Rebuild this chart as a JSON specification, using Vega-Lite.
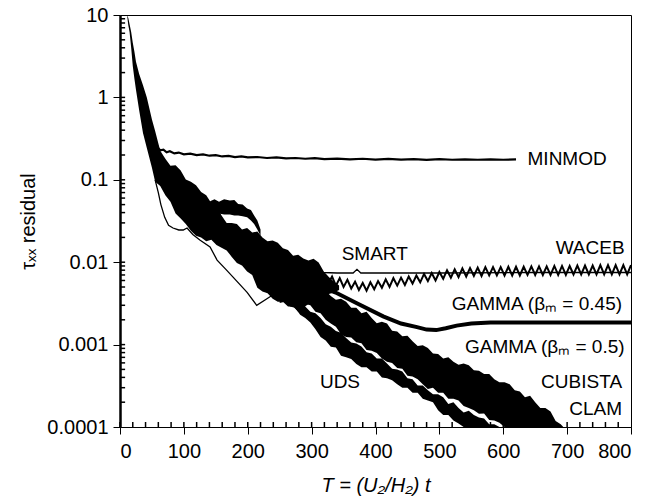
{
"$schema":"https://vega.github.io/schema/vega-lite/v6.json",
"width":511,"height":412,
"autosize":{"type":"none"},
"padding":{"left":120,"top":15,"right":17,"bottom":75},
"background":"white",
"config":{"view":{"stroke":"black","strokeWidth":1},"font":"Liberation Sans",
 "axis":{"domainColor":"black","tickColor":"black","labelColor":"black","titleColor":"black","grid":false,"labelFont":"Liberation Sans","titleFont":"Liberation Sans","titleFontWeight":"normal"}},
"datasets":{
"bands":[
{"band":"bundle","x":11,"hi":10,"lo":10},
{"band":"bundle","x":13,"hi":9.2,"lo":7.5},
{"band":"bundle","x":15,"hi":7.7,"lo":6.2},
{"band":"bundle","x":17.5,"hi":6.2,"lo":4.0},
{"band":"bundle","x":20,"hi":4.6,"lo":2.4},
{"band":"bundle","x":22.5,"hi":3.6,"lo":1.7},
{"band":"bundle","x":25,"hi":2.7,"lo":1.24},
{"band":"bundle","x":30,"hi":1.92,"lo":0.70},
{"band":"bundle","x":36,"hi":1.40,"lo":0.37},
{"band":"bundle","x":42,"hi":1.0,"lo":0.244},
{"band":"bundle","x":50,"hi":0.54,"lo":0.14},
{"band":"bundle","x":55,"hi":0.39,"lo":0.095},
{"band":"bundle","x":63,"hi":0.225,"lo":0.084},
{"band":"bundle","x":71,"hi":0.18,"lo":0.065},
{"band":"bundle","x":79,"hi":0.148,"lo":0.054},
{"band":"bundle","x":87,"hi":0.15,"lo":0.039},
{"band":"bundle","x":95,"hi":0.13,"lo":0.034},
{"band":"bundle","x":103,"hi":0.101,"lo":0.029},
{"band":"bundle","x":111,"hi":0.095,"lo":0.024},
{"band":"bundle","x":119,"hi":0.086,"lo":0.021},
{"band":"bundle","x":127,"hi":0.071,"lo":0.020},
{"band":"bundle","x":135,"hi":0.065,"lo":0.018},
{"band":"bundle","x":143,"hi":0.052,"lo":0.0187},
{"band":"bundle","x":151,"hi":0.048,"lo":0.0162},
{"band":"bundle","x":159,"hi":0.037,"lo":0.015},
{"band":"bundle","x":167,"hi":0.030,"lo":0.0139},
{"band":"bundle","x":175,"hi":0.030,"lo":0.0116},
{"band":"bundle","x":183,"hi":0.029,"lo":0.0098},
{"band":"bundle","x":191,"hi":0.025,"lo":0.0091},
{"band":"bundle","x":199,"hi":0.026,"lo":0.0077},
{"band":"bundle","x":207,"hi":0.023,"lo":0.0070},
{"band":"bundle","x":215,"hi":0.0235,"lo":0.0049},
{"band":"bundle","x":223,"hi":0.020,"lo":0.0044},
{"band":"bundle","x":231,"hi":0.018,"lo":0.0042},
{"band":"bundle","x":239,"hi":0.0184,"lo":0.0036},
{"band":"bundle","x":247,"hi":0.0172,"lo":0.0033},
{"band":"bundle","x":255,"hi":0.0148,"lo":0.0033},
{"band":"bundle","x":263,"hi":0.0141,"lo":0.0029},
{"band":"bundle","x":271,"hi":0.012,"lo":0.0029},
{"band":"bundle","x":279,"hi":0.0123,"lo":0.0025},
{"band":"bundle","x":287,"hi":0.0111,"lo":0.0028},
{"band":"bundle","x":295,"hi":0.0105,"lo":0.0031},
{"band":"bundle","x":303,"hi":0.011,"lo":0.0032},
{"band":"bundle","x":311,"hi":0.0099,"lo":0.0034},
{"band":"bundle","x":319,"hi":0.0077,"lo":0.0038},
{"band":"bundle","x":327,"hi":0.0066,"lo":0.0041},
{"band":"bundle","x":335,"hi":0.0058,"lo":0.0043},
{"band":"bundle","x":343,"hi":0.0052,"lo":0.0046},
{"band":"hump","x":141,"hi":0.055,"lo":0.04},
{"band":"hump","x":148,"hi":0.058,"lo":0.039},
{"band":"hump","x":155,"hi":0.054,"lo":0.039},
{"band":"hump","x":163,"hi":0.058,"lo":0.038},
{"band":"hump","x":172,"hi":0.056,"lo":0.038},
{"band":"hump","x":179,"hi":0.057,"lo":0.037},
{"band":"hump","x":185,"hi":0.051,"lo":0.037},
{"band":"hump","x":192,"hi":0.05,"lo":0.036},
{"band":"hump","x":199,"hi":0.045,"lo":0.035},
{"band":"hump","x":205,"hi":0.043,"lo":0.032},
{"band":"hump","x":210,"hi":0.037,"lo":0.029},
{"band":"hump","x":215,"hi":0.032,"lo":0.025},
{"band":"hump","x":220,"hi":0.025,"lo":0.021},
{"band":"g5","x":290,"hi":0.0066,"lo":0.0031},
{"band":"g5","x":298,"hi":0.0055,"lo":0.003},
{"band":"g5","x":306,"hi":0.0052,"lo":0.0025},
{"band":"g5","x":314,"hi":0.0044,"lo":0.0024},
{"band":"g5","x":322,"hi":0.0045,"lo":0.002},
{"band":"g5","x":330,"hi":0.0039,"lo":0.0018},
{"band":"g5","x":338,"hi":0.0035,"lo":0.00165},
{"band":"g5","x":346,"hi":0.0036,"lo":0.00134},
{"band":"g5","x":354,"hi":0.0033,"lo":0.00124},
{"band":"g5","x":362,"hi":0.0028,"lo":0.00122},
{"band":"g5","x":370,"hi":0.0028,"lo":0.00107},
{"band":"g5","x":378,"hi":0.0024,"lo":0.00104},
{"band":"g5","x":386,"hi":0.0025,"lo":0.00086},
{"band":"g5","x":394,"hi":0.0021,"lo":0.00084},
{"band":"g5","x":402,"hi":0.00182,"lo":0.00079},
{"band":"g5","x":410,"hi":0.0019,"lo":0.00068},
{"band":"g5","x":418,"hi":0.0018,"lo":0.00062},
{"band":"g5","x":426,"hi":0.00147,"lo":0.0006},
{"band":"g5","x":434,"hi":0.00144,"lo":0.00052},
{"band":"g5","x":442,"hi":0.00126,"lo":0.00051},
{"band":"g5","x":450,"hi":0.00128,"lo":0.00042},
{"band":"g5","x":458,"hi":0.0011,"lo":0.00041},
{"band":"g5","x":466,"hi":0.00096,"lo":0.00038},
{"band":"g5","x":474,"hi":0.00098,"lo":0.00033},
{"band":"g5","x":482,"hi":0.00091,"lo":0.00029},
{"band":"g5","x":490,"hi":0.00078,"lo":0.0003},
{"band":"g5","x":498,"hi":0.00077,"lo":0.00026},
{"band":"g5","x":506,"hi":0.00068,"lo":0.00026},
{"band":"g5","x":514,"hi":0.0007,"lo":0.00022},
{"band":"g5","x":522,"hi":0.00062,"lo":0.00022},
{"band":"g5","x":530,"hi":0.00057,"lo":0.00021},
{"band":"g5","x":538,"hi":0.00059,"lo":0.00018},
{"band":"g5","x":546,"hi":0.00056,"lo":0.00017},
{"band":"g5","x":554,"hi":0.00049,"lo":0.00016},
{"band":"g5","x":562,"hi":0.00048,"lo":0.000145},
{"band":"g5","x":570,"hi":0.00044,"lo":0.000146},
{"band":"g5","x":578,"hi":0.00044,"lo":0.000122},
{"band":"g5","x":586,"hi":0.00038,"lo":0.00012},
{"band":"g5","x":594,"hi":0.00035,"lo":0.000113},
{"band":"g5","x":602,"hi":0.00035,"lo":0.0001},
{"band":"g5","x":610,"hi":0.00033,"lo":0.0001},
{"band":"g5","x":618,"hi":0.00028,"lo":0.0001},
{"band":"g5","x":626,"hi":0.00027,"lo":0.0001},
{"band":"g5","x":634,"hi":0.00023,"lo":0.0001},
{"band":"g5","x":642,"hi":0.00024,"lo":0.0001},
{"band":"g5","x":650,"hi":0.0002,"lo":0.0001},
{"band":"g5","x":658,"hi":0.00017,"lo":0.0001},
{"band":"g5","x":666,"hi":0.00017,"lo":0.0001},
{"band":"g5","x":674,"hi":0.000154,"lo":0.0001},
{"band":"g5","x":682,"hi":0.000118,"lo":0.0001},
{"band":"g5","x":690,"hi":0.000108,"lo":0.0001},
{"band":"g5","x":694,"hi":0.0001,"lo":0.0001},
{"band":"uds","x":250,"hi":0.0048,"lo":0.0032},
{"band":"uds","x":258,"hi":0.0041,"lo":0.0033},
{"band":"uds","x":266,"hi":0.004,"lo":0.0029},
{"band":"uds","x":274,"hi":0.0035,"lo":0.0028},
{"band":"uds","x":282,"hi":0.0034,"lo":0.0023},
{"band":"uds","x":290,"hi":0.0029,"lo":0.0021},
{"band":"uds","x":298,"hi":0.0025,"lo":0.00185},
{"band":"uds","x":306,"hi":0.0024,"lo":0.00154},
{"band":"uds","x":314,"hi":0.0021,"lo":0.00124},
{"band":"uds","x":322,"hi":0.00176,"lo":0.00112},
{"band":"uds","x":330,"hi":0.00165,"lo":0.00094},
{"band":"uds","x":338,"hi":0.00146,"lo":0.00092},
{"band":"uds","x":346,"hi":0.00139,"lo":0.00073},
{"band":"uds","x":354,"hi":0.0012,"lo":0.0007},
{"band":"uds","x":362,"hi":0.00106,"lo":0.00067},
{"band":"uds","x":370,"hi":0.00103,"lo":0.00058},
{"band":"uds","x":378,"hi":0.00095,"lo":0.00053},
{"band":"uds","x":386,"hi":0.00081,"lo":0.00053},
{"band":"uds","x":394,"hi":0.00078,"lo":0.00047},
{"band":"uds","x":402,"hi":0.00068,"lo":0.00047},
{"band":"uds","x":410,"hi":0.00068,"lo":0.0004},
{"band":"uds","x":418,"hi":0.00059,"lo":0.00039},
{"band":"uds","x":426,"hi":0.00051,"lo":0.00037},
{"band":"uds","x":434,"hi":0.0005,"lo":0.00033},
{"band":"uds","x":442,"hi":0.00047,"lo":0.0003},
{"band":"uds","x":450,"hi":0.00039,"lo":0.0003},
{"band":"uds","x":458,"hi":0.00038,"lo":0.00026},
{"band":"uds","x":466,"hi":0.00032,"lo":0.00026},
{"band":"uds","x":474,"hi":0.00032,"lo":0.00022},
{"band":"uds","x":482,"hi":0.00028,"lo":0.00021},
{"band":"uds","x":490,"hi":0.00025,"lo":0.0002},
{"band":"uds","x":498,"hi":0.00025,"lo":0.00016},
{"band":"uds","x":506,"hi":0.00023,"lo":0.00014},
{"band":"uds","x":514,"hi":0.00019,"lo":0.00014},
{"band":"uds","x":522,"hi":0.0002,"lo":0.00012},
{"band":"uds","x":530,"hi":0.00017,"lo":0.00011},
{"band":"uds","x":538,"hi":0.00015,"lo":0.0001},
{"band":"uds","x":546,"hi":0.000158,"lo":0.0001},
{"band":"uds","x":554,"hi":0.00014,"lo":0.0001},
{"band":"uds","x":562,"hi":0.00013,"lo":0.0001},
{"band":"uds","x":570,"hi":0.000127,"lo":0.0001},
{"band":"uds","x":578,"hi":0.000108,"lo":0.0001},
{"band":"uds","x":586,"hi":0.000108,"lo":0.0001},
{"band":"uds","x":594,"hi":0.0001,"lo":0.0001}
],
"thin":[
{"s":"thin","x":55,"y":0.1},{"s":"thin","x":60,"y":0.07},{"s":"thin","x":64,"y":0.05},{"s":"thin","x":70,"y":0.035},
{"s":"thin","x":76,"y":0.028},{"s":"thin","x":83,"y":0.026},{"s":"thin","x":92,"y":0.0246},{"s":"thin","x":99,"y":0.0246},
{"s":"thin","x":105,"y":0.026},{"s":"thin","x":114,"y":0.0217},{"s":"thin","x":125,"y":0.0186},{"s":"thin","x":141,"y":0.0153},
{"s":"thin","x":152,"y":0.0106},{"s":"thin","x":165,"y":0.0083},{"s":"thin","x":177,"y":0.0066},{"s":"thin","x":199,"y":0.0043},
{"s":"thin","x":214,"y":0.003},{"s":"thin","x":230,"y":0.0036},{"s":"thin","x":239,"y":0.004},{"s":"thin","x":250,"y":0.0043},
{"s":"smart","x":290,"y":0.0105},{"s":"smart","x":305,"y":0.009},{"s":"smart","x":318,"y":0.0075},{"s":"smart","x":340,"y":0.0074},
{"s":"smart","x":365,"y":0.0074},{"s":"smart","x":371,"y":0.0082},{"s":"smart","x":377,"y":0.0074},{"s":"smart","x":400,"y":0.0074},
{"s":"smart","x":500,"y":0.0074},{"s":"smart","x":650,"y":0.0075},{"s":"smart","x":800,"y":0.0075}
],
"minmod":[
{"x":58,"y":0.25},{"x":63,"y":0.228},{"x":68,"y":0.232},{"x":73,"y":0.216},{"x":78,"y":0.222},{"x":85,"y":0.209},{"x":92,"y":0.214},
{"x":100,"y":0.204},{"x":110,"y":0.208},{"x":120,"y":0.199},{"x":130,"y":0.203},{"x":140,"y":0.196},{"x":150,"y":0.199},{"x":160,"y":0.192},
{"x":170,"y":0.195},{"x":180,"y":0.189},{"x":190,"y":0.192},{"x":200,"y":0.187},{"x":215,"y":0.189},{"x":230,"y":0.184},{"x":245,"y":0.187},
{"x":260,"y":0.182},{"x":275,"y":0.184},{"x":290,"y":0.18},{"x":305,"y":0.183},{"x":320,"y":0.178},{"x":340,"y":0.181},{"x":360,"y":0.177},
{"x":380,"y":0.18},{"x":400,"y":0.176},{"x":420,"y":0.179},{"x":440,"y":0.176},{"x":460,"y":0.178},{"x":480,"y":0.175},{"x":500,"y":0.178},
{"x":520,"y":0.175},{"x":540,"y":0.177},{"x":560,"y":0.175},{"x":580,"y":0.177},{"x":600,"y":0.175},{"x":620,"y":0.177}
],
"waceb":[
{"x":320,"y":0.0069},{"x":326,"y":0.0055},{"x":332,"y":0.0067},{"x":338,"y":0.0052},{"x":344,"y":0.0064},{"x":350,"y":0.0050},
{"x":356,"y":0.0061},{"x":362,"y":0.0048},{"x":368,"y":0.0058},{"x":374,"y":0.0046},{"x":380,"y":0.0056},{"x":386,"y":0.0045},
{"x":392,"y":0.0057},{"x":398,"y":0.0047},{"x":404,"y":0.0059},{"x":410,"y":0.0049},{"x":416,"y":0.0062},{"x":422,"y":0.0050},
{"x":428,"y":0.0064},{"x":434,"y":0.0052},{"x":440,"y":0.0065},{"x":446,"y":0.0053},{"x":452,"y":0.0067},{"x":458,"y":0.0055},
{"x":464,"y":0.0069},{"x":470,"y":0.0057},{"x":476,"y":0.0072},{"x":482,"y":0.0059},{"x":488,"y":0.0074},{"x":494,"y":0.0060},
{"x":500,"y":0.0076},{"x":506,"y":0.0063},{"x":512,"y":0.0080},{"x":518,"y":0.0065},{"x":524,"y":0.0082},{"x":530,"y":0.0066},
{"x":536,"y":0.0084},{"x":542,"y":0.0067},{"x":548,"y":0.0085},{"x":554,"y":0.0068},{"x":560,"y":0.0086},{"x":566,"y":0.0068},
{"x":572,"y":0.0087},{"x":578,"y":0.0069},{"x":584,"y":0.0087},{"x":590,"y":0.0069},{"x":596,"y":0.0087},{"x":602,"y":0.0069},
{"x":608,"y":0.0088},{"x":614,"y":0.0069},{"x":620,"y":0.0088},{"x":626,"y":0.0069},{"x":632,"y":0.0088},{"x":638,"y":0.0070},
{"x":644,"y":0.0089},{"x":650,"y":0.0070},{"x":656,"y":0.0089},{"x":662,"y":0.0070},{"x":668,"y":0.0089},{"x":674,"y":0.0070},
{"x":680,"y":0.0090},{"x":686,"y":0.0070},{"x":692,"y":0.0090},{"x":698,"y":0.0070},{"x":704,"y":0.0090},{"x":710,"y":0.0071},
{"x":716,"y":0.0091},{"x":722,"y":0.0071},{"x":728,"y":0.0091},{"x":734,"y":0.0071},{"x":740,"y":0.0091},{"x":746,"y":0.0071},
{"x":752,"y":0.0092},{"x":758,"y":0.0071},{"x":764,"y":0.0092},{"x":770,"y":0.0071},{"x":776,"y":0.0092},{"x":782,"y":0.0071},
{"x":788,"y":0.0092},{"x":794,"y":0.0071},{"x":800,"y":0.0092}
],
"gamma45":[
{"x":300,"y":0.0055},{"x":320,"y":0.0048},{"x":340,"y":0.0042},{"x":370,"y":0.0032},{"x":412,"y":0.0022},{"x":440,"y":0.0018},
{"x":465,"y":0.00163},{"x":480,"y":0.00152},{"x":495,"y":0.0015},{"x":510,"y":0.00158},{"x":527,"y":0.0017},{"x":550,"y":0.0018},
{"x":580,"y":0.00185},{"x":650,"y":0.00186},{"x":720,"y":0.00185},{"x":800,"y":0.00185}
],
"xticks":[
{"v":0},{"v":20},{"v":40},{"v":60},{"v":80},{"v":100},{"v":120},{"v":140},{"v":160},{"v":180},{"v":200},{"v":220},{"v":240},{"v":260},{"v":280},
{"v":300},{"v":320},{"v":340},{"v":360},{"v":380},{"v":400},{"v":420},{"v":440},{"v":460},{"v":480},{"v":500},{"v":520},{"v":540},{"v":560},{"v":580},
{"v":600},{"v":620},{"v":640},{"v":660},{"v":680},{"v":700},{"v":720},{"v":740},{"v":760},{"v":780}
],
"yticks":[
{"v":0.0002},{"v":0.0003},{"v":0.0004},{"v":0.0005},{"v":0.0006},{"v":0.0007},{"v":0.0008},{"v":0.0009},{"v":0.001},
{"v":0.002},{"v":0.003},{"v":0.004},{"v":0.005},{"v":0.006},{"v":0.007},{"v":0.008},{"v":0.009},{"v":0.01},
{"v":0.02},{"v":0.03},{"v":0.04},{"v":0.05},{"v":0.06},{"v":0.07},{"v":0.08},{"v":0.09},{"v":0.1},
{"v":0.2},{"v":0.3},{"v":0.4},{"v":0.5},{"v":0.6},{"v":0.7},{"v":0.8},{"v":0.9},{"v":1},
{"v":2},{"v":3},{"v":4},{"v":5},{"v":6},{"v":7},{"v":8},{"v":9}
],
"labelsL":[
{"x":638,"y":0.18,"t":"MINMOD"},{"x":347,"y":0.0126,"t":"SMART"},{"x":313,"y":0.000356,"t":"UDS"}
],
"labelsR":[
{"x":790,"y":0.0147,"t":"WACEB"},{"x":786,"y":0.00313,"t":"GAMMA (βₘ = 0.45)"},{"x":790,"y":0.00094,"t":"GAMMA (βₘ = 0.5)"},
{"x":786,"y":0.000356,"t":"CUBISTA"},{"x":786,"y":0.000167,"t":"CLAM"}
]
},
"layer":[
{"data":{"name":"bands"},"mark":{"type":"area","color":"black","opacity":1},
 "encoding":{
  "x":{"field":"x","type":"quantitative","scale":{"domain":[0,800],"nice":false,"zero":false},
   "axis":{"orient":"bottom","values":[0,100,200,300,400,500,600,700,800],"tickSize":7,"labelFontSize":20,"labelPadding":7,"domainWidth":1,
    "title":"T = (U₂/H₂) t","titleFontSize":20,"titleFontStyle":"italic","titlePadding":14}},
  "y":{"field":"hi","type":"quantitative","scale":{"type":"log","domain":[0.0001,10],"nice":false},
   "axis":{"orient":"left","values":[0.0001,0.001,0.01,0.1,1,10],"labelExpr":"'' + datum.value","tickSize":7,"labelFontSize":20,"labelPadding":5,"domainWidth":2.5,
    "title":"τₓₓ residual","titleFontSize":20,"titlePadding":8}},
  "y2":{"field":"lo"},
  "detail":{"field":"band"}}},
{"data":{"name":"thin"},"mark":{"type":"line","color":"black","strokeWidth":1.3},
 "encoding":{"x":{"field":"x","type":"quantitative","axis":null},"y":{"field":"y","type":"quantitative","axis":null},"detail":{"field":"s"}}},
{"data":{"name":"minmod"},"mark":{"type":"line","color":"black","strokeWidth":2.2},
 "encoding":{"x":{"field":"x","type":"quantitative","axis":null},"y":{"field":"y","type":"quantitative","axis":null}}},
{"data":{"name":"waceb"},"mark":{"type":"line","color":"black","strokeWidth":2},
 "encoding":{"x":{"field":"x","type":"quantitative","axis":null},"y":{"field":"y","type":"quantitative","axis":null}}},
{"data":{"name":"gamma45"},"mark":{"type":"line","color":"black","strokeWidth":4},
 "encoding":{"x":{"field":"x","type":"quantitative","axis":null},"y":{"field":"y","type":"quantitative","axis":null}}},
{"data":{"name":"xticks"},"mark":{"type":"rule","color":"black","strokeWidth":1.5},
 "encoding":{"x":{"field":"v","type":"quantitative","axis":null},"y":{"datum":0.0001,"type":"quantitative","axis":null},"y2":{"datum":0.000115}}},
{"data":{"name":"yticks"},"mark":{"type":"rule","color":"black","strokeWidth":1.5},
 "encoding":{"y":{"field":"v","type":"quantitative","axis":null},"x":{"datum":0,"type":"quantitative","axis":null},"x2":{"datum":8}}},
{"data":{"name":"labelsL"},"mark":{"type":"text","align":"left","baseline":"middle","fontSize":19,"font":"Liberation Sans","color":"black"},
 "encoding":{"x":{"field":"x","type":"quantitative","axis":null},"y":{"field":"y","type":"quantitative","axis":null},"text":{"field":"t"}}},
{"data":{"name":"labelsR"},"mark":{"type":"text","align":"right","baseline":"middle","fontSize":19,"font":"Liberation Sans","color":"black"},
 "encoding":{"x":{"field":"x","type":"quantitative","axis":null},"y":{"field":"y","type":"quantitative","axis":null},"text":{"field":"t"}}}
],
"resolve":{"axis":{"x":"independent","y":"independent"}}
}
